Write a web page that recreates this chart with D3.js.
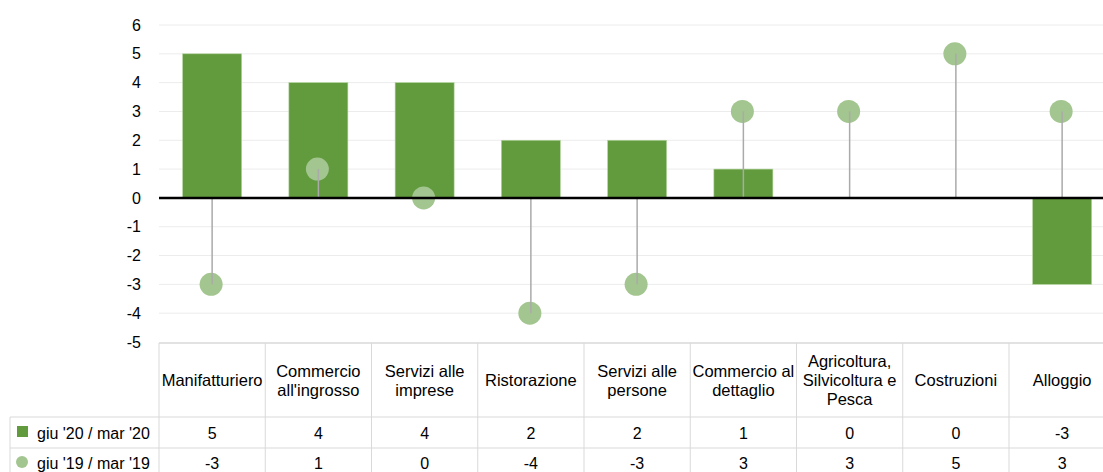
<!DOCTYPE html>
<html>
<head>
<meta charset="utf-8">
<script src="https://cdn.jsdelivr.net/npm/d3@7"></script>
<style>
  body { margin: 0; background: #fff; }
  svg { display: block; font-family: "Liberation Sans", Arial, sans-serif; }
</style>
</head>
<body>
<div id="viz"></div>
<script>
// categories as they appear in the table header (lines split manually)
var categories = [
  ["Manifatturiero"],
  ["Commercio", "all'ingrosso"],
  ["Servizi alle", "imprese"],
  ["Ristorazione"],
  ["Servizi alle", "persone"],
  ["Commercio al", "dettaglio"],
  ["Agricoltura,", "Silvicoltura e", "Pesca"],
  ["Costruzioni"],
  ["Alloggio"]
];
var seriesNames = ["giu '20 / mar '20", "giu '19 / mar '19"];
var barValues = [5, 4, 4, 2, 2, 1, 0, 0, -3];
var dotValues = [-3, 1, 0, -4, -3, 3, 3, 5, 3];
var yTicks = [6, 5, 4, 3, 2, 1, 0, -1, -2, -3, -4, -5];

var W = 1103, H = 472;
var plotLeft = 159, colW = 106.25;
var plotTop = 25, plotBottom = 342;
var barColor = "#629a3e", dotColor = "#a3c58f";

var svg = d3.select('#viz').append('svg').attr('width', W).attr('height', H);

var x = d3.scaleBand()
  .domain(d3.range(categories.length))
  .range([plotLeft, plotLeft + colW * categories.length])
  .paddingInner(0).paddingOuter(0);
var y = d3.scaleLinear().domain([-5, 6]).range([plotBottom, plotTop]);

// grid
svg.append('g').selectAll('line').data(yTicks.filter(function(d){ return d !== 0 && d !== -5; }))
  .enter().append('line')
  .attr('x1', plotLeft).attr('x2', W)
  .attr('y1', function(d){ return y(d); }).attr('y2', function(d){ return y(d); })
  .attr('stroke', '#ececec').attr('stroke-width', 1);

// y axis labels (plain hyphen, like the original)
var yAxis = d3.axisLeft(y).tickValues(yTicks).tickSize(0).tickPadding(0)
  .tickFormat(function(d){ return String(d); });
var ga = svg.append('g').attr('transform', 'translate(141,0)').call(yAxis);
ga.select('.domain').remove();
ga.selectAll('text').attr('font-size', 16).attr('fill', '#000')
  .attr('font-family', '"Liberation Sans", Arial, sans-serif');

// bars
var bw = 59;
svg.append('g').selectAll('rect').data(barValues).enter().append('rect')
  .attr('x', function(d, i){ return x(i) + x.bandwidth() / 2 - bw / 2; })
  .attr('width', bw)
  .attr('y', function(d){ return y(Math.max(0, d)); })
  .attr('height', function(d){ return Math.abs(y(d) - y(0)); })
  .attr('fill', barColor)
  .attr('stroke', '#b5d59f').attr('stroke-width', 0.6);

// dots
svg.append('g').selectAll('circle').data(dotValues).enter().append('circle')
  .attr('cx', function(d, i){ return x(i) + x.bandwidth() / 2 - 1; })
  .attr('cy', function(d){ return y(d); })
  .attr('r', 11.5)
  .attr('fill', dotColor);

// stems
svg.append('g').selectAll('line').data(dotValues).enter().append('line')
  .attr('x1', function(d, i){ return x(i) + x.bandwidth() / 2; })
  .attr('x2', function(d, i){ return x(i) + x.bandwidth() / 2; })
  .attr('y1', y(0))
  .attr('y2', function(d){ return y(d); })
  .attr('stroke', '#aaaaaa').attr('stroke-width', 1.5);

// zero line
svg.append('line')
  .attr('x1', plotLeft).attr('x2', W)
  .attr('y1', y(0)).attr('y2', y(0))
  .attr('stroke', '#000').attr('stroke-width', 2.5);

// data table
var tTop = plotBottom + 1, r1 = 417, r2 = 448, legLeft = 10;
var grid = '#d9d9d9';
var tbl = svg.append('g');
tbl.append('line').attr('x1', plotLeft).attr('x2', W).attr('y1', tTop).attr('y2', tTop)
  .attr('stroke', grid).attr('stroke-width', 1.5);
[r1, r2].forEach(function(ry){
  tbl.append('line').attr('x1', legLeft).attr('x2', W).attr('y1', ry).attr('y2', ry)
    .attr('stroke', grid).attr('stroke-width', 1);
});
tbl.append('line').attr('x1', legLeft).attr('x2', legLeft).attr('y1', r1).attr('y2', H)
  .attr('stroke', grid).attr('stroke-width', 1);
tbl.selectAll('line.col').data(d3.range(categories.length)).enter().append('line')
  .attr('class', 'col')
  .attr('x1', function(i){ return x(i); }).attr('x2', function(i){ return x(i); })
  .attr('y1', tTop).attr('y2', H)
  .attr('stroke', grid).attr('stroke-width', 1);

// header labels
var lh = 19;
tbl.selectAll('text.cat').data(categories).enter().append('text')
  .attr('class', 'cat')
  .attr('text-anchor', 'middle')
  .attr('font-size', 16.5)
  .attr('x', function(d, i){ return x(i) + x.bandwidth() / 2; })
  .attr('y', function(d){ return (tTop + r1) / 2 + 6 - (d.length - 1) * lh / 2; })
  .each(function(d){
    var t = d3.select(this);
    d.forEach(function(s, k){
      t.append('tspan').attr('x', t.attr('x')).attr('dy', k === 0 ? 0 : lh).text(s);
    });
  });

// value rows
[barValues, dotValues].forEach(function(vals, r){
  var cy = r === 0 ? (r1 + r2) / 2 + 6 : r2 + 21;
  tbl.append('g').selectAll('text').data(vals).enter().append('text')
    .attr('text-anchor', 'middle').attr('font-size', 16)
    .attr('x', function(d, i){ return x(i) + x.bandwidth() / 2; })
    .attr('y', cy)
    .text(function(d){ return d; });
  tbl.append('text').attr('x', 37).attr('y', cy).attr('font-size', 16)
    .text(seriesNames[r]);
});

// legend keys
tbl.append('rect').attr('x', 17).attr('y', 426).attr('width', 11).attr('height', 11).attr('fill', barColor);
tbl.append('circle').attr('cx', 22).attr('cy', 462).attr('r', 6).attr('fill', dotColor);
</script>
</body>
</html>
